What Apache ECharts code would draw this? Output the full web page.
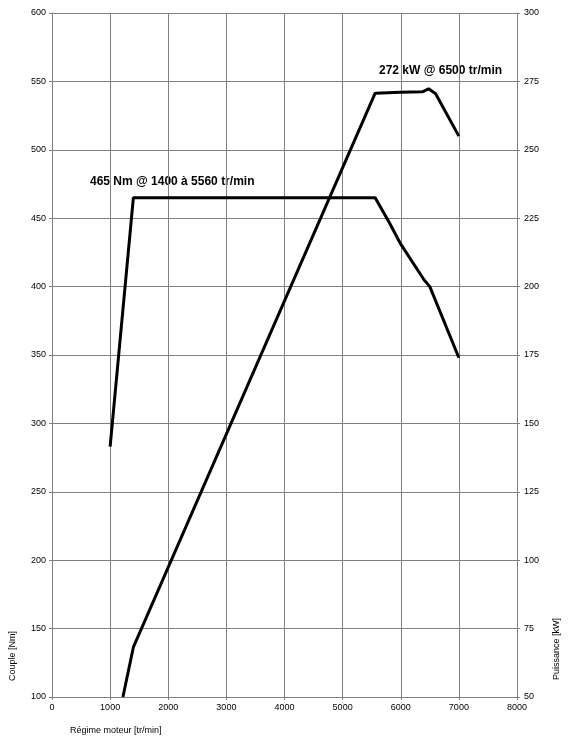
<!DOCTYPE html>
<html>
<head>
<meta charset="utf-8">
<script src="https://cdn.jsdelivr.net/npm/echarts@6/dist/echarts.min.js"></script>
<style>
html,body{margin:0;padding:0;background:#fff;}
#c{width:575px;height:745px;}
</style>
</head>
<body>
<div id="c"></div>
<script>
// Data
const rpmTicks = [0,1000,2000,3000,4000,5000,6000,7000,8000];
const torqueRpm = [1000, 1400, 5560, 5800, 6000, 6400, 6500, 7000];
const torqueNm  = [283,  465,  465,  447,  431,  405,  400,  348];
const powerRpm  = [1220, 1400, 5560, 6000, 6370, 6480, 6600, 7000];
const powerKw   = [50,   68.2, 270.7,271,  271.2,272.3,270.5,255];
const torqueLabel = '465 Nm @ 1400 à 5560 tr/min';
const powerLabel = '272 kW @ 6500 tr/min';
const xName = 'Régime moteur [tr/min]';
const yLeftName = 'Couple [Nm]';
const yRightName = 'Puissance [kW]';

const torqueData = torqueRpm.map((r,i)=>[r, torqueNm[i]]);
const powerData = powerRpm.map((r,i)=>[r, powerKw[i]]);

const chart = echarts.init(document.getElementById('c'), null, {renderer:'canvas'});
const grey = '#808080';
const font = '"Liberation Sans", Arial, sans-serif';
const plain = v => String(v);
const tickLbl = {color:'#000', fontSize:9, fontFamily:font, formatter:plain};
chart.setOption({
  animation:false,
  backgroundColor:'#fff',
  grid:{left:52, right:58, top:13, bottom:48, containLabel:false},
  xAxis:{
    type:'value', min:0, max:8000, interval:1000,
    axisLine:{show:true, lineStyle:{color:grey, width:1}},
    axisTick:{show:true, length:3, lineStyle:{color:grey}},
    axisLabel:Object.assign({margin:6}, tickLbl),
    splitLine:{show:true, lineStyle:{color:grey, width:1}}
  },
  yAxis:[{
    type:'value', min:100, max:600, interval:50, position:'left',
    axisLine:{show:true, lineStyle:{color:grey, width:1}},
    axisTick:{show:true, length:3, lineStyle:{color:grey}},
    axisLabel:Object.assign({margin:6}, tickLbl),
    splitLine:{show:true, lineStyle:{color:grey, width:1}}
  },{
    type:'value', min:50, max:300, interval:25, position:'right',
    axisLine:{show:true, lineStyle:{color:grey, width:1}},
    axisTick:{show:true, length:3, lineStyle:{color:grey}},
    axisLabel:Object.assign({margin:7}, tickLbl),
    splitLine:{show:false}
  }],
  series:[{
    type:'line', name:'Couple', yAxisIndex:0, data:torqueData,
    symbol:'none', lineStyle:{color:'#000', width:3}, itemStyle:{color:'#000'}
  },{
    type:'line', name:'Puissance', yAxisIndex:1, data:powerData,
    symbol:'none', lineStyle:{color:'#000', width:3}, itemStyle:{color:'#000'}
  }],
  graphic:[
    {type:'text', left:90, top:176, style:{text:torqueLabel, fill:'#000', font:'bold 12px '+font}},
    {type:'text', left:379, top:65, style:{text:powerLabel, fill:'#000', font:'bold 12px '+font}},
    {type:'text', left:70, top:726, style:{text:xName, fill:'#000', font:'9px '+font}},
    {type:'text', x:13, y:656, rotation:Math.PI/2, style:{text:yLeftName, fill:'#000', font:'9px '+font, align:'center', verticalAlign:'middle'}},
    {type:'text', x:557, y:649, rotation:Math.PI/2, style:{text:yRightName, fill:'#000', font:'9px '+font, align:'center', verticalAlign:'middle'}}
  ]
});
</script>
</body>
</html>
